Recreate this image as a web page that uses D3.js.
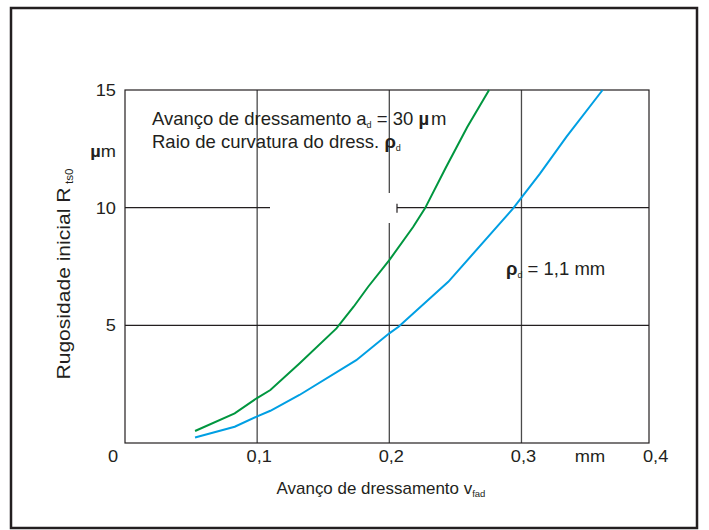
<!DOCTYPE html>
<html>
<head>
<meta charset="utf-8">
<script src="https://cdn.jsdelivr.net/npm/d3@7"></script>
<style>
  body { margin: 0; background: #fff; }
  text { font-family: "Liberation Sans", Arial, sans-serif; fill: #231f20; }
</style>
</head>
<body>
<div id="chart"></div>
<script>
// curve data (x in mm, y in µm)
const greenX = [0.053, 0.083, 0.0996, 0.110, 0.132, 0.160, 0.173, 0.184, 0.200, 0.218, 0.227, 0.243, 0.259, 0.2755];
const greenY = [0.51, 1.26, 1.90, 2.25, 3.38, 4.87, 5.79, 6.64, 7.77, 9.18, 9.97, 11.73, 13.43, 15.0];
const blueX = [0.053, 0.083, 0.0996, 0.110, 0.132, 0.175, 0.200, 0.207, 0.2446, 0.2837, 0.2937, 0.314, 0.334, 0.3614];
const blueY = [0.23, 0.69, 1.12, 1.37, 2.04, 3.52, 4.66, 4.94, 6.85, 9.33, 9.97, 11.45, 13.01, 15.0];

const xTicks = [0.1, 0.2, 0.3, 0.4];
const xTickLabels = ["0,1", "0,2", "0,3", "0,4"];
const yTicks = [5, 10, 15];
const yTickLabels = ["5", "10", "15"];

const width = 709, height = 530;
const plotLeft = 125, plotRight = 649, plotTop = 90, plotBottom = 443;

const svg = d3.select("#chart").append("svg")
    .attr("width", width)
    .attr("height", height);

// outer frame
svg.append("rect")
    .attr("x", 11).attr("y", 8)
    .attr("width", 686).attr("height", 520)
    .attr("fill", "none")
    .attr("stroke", "#231f20")
    .attr("stroke-width", 2.5);

const x = d3.scaleLinear().domain([0, 0.3965]).range([plotLeft, plotRight]);
const y = d3.scaleLinear().domain([0, 15]).range([plotBottom, plotTop]);

// grid lines
svg.append("g")
    .selectAll("line")
    .data(xTicks.filter(d => d < 0.39))
    .enter().append("line")
    .attr("x1", d => x(d)).attr("x2", d => x(d))
    .attr("y1", plotTop).attr("y2", plotBottom)
    .attr("stroke", "#4a4a4a")
    .attr("stroke-width", 1.3);

svg.append("g")
    .selectAll("line")
    .data(yTicks.filter(d => d < 15))
    .enter().append("line")
    .attr("x1", plotLeft).attr("x2", plotRight)
    .attr("y1", d => y(d)).attr("y2", d => y(d))
    .attr("stroke", "#231f20")
    .attr("stroke-width", 1.2);

// white patch over the grid (as in the scan)
svg.append("rect")
    .attr("x", 270).attr("y", 193)
    .attr("width", 127).attr("height", 30)
    .attr("fill", "#fff");
svg.append("line")
    .attr("x1", 397).attr("x2", 397)
    .attr("y1", y(10) - 4).attr("y2", y(10) + 5)
    .attr("stroke", "#231f20")
    .attr("stroke-width", 1.2);

// plot frame
svg.append("rect")
    .attr("x", plotLeft).attr("y", plotTop)
    .attr("width", plotRight - plotLeft).attr("height", plotBottom - plotTop)
    .attr("fill", "none")
    .attr("stroke", "#231f20")
    .attr("stroke-width", 1.2);

// curves
const line = d3.line()
    .x(d => x(d[0]))
    .y(d => y(d[1]));

svg.append("path")
    .datum(d3.zip(greenX, greenY))
    .attr("d", line)
    .attr("fill", "none")
    .attr("stroke", "#00963f")
    .attr("stroke-width", 2);

svg.append("path")
    .datum(d3.zip(blueX, blueY))
    .attr("d", line)
    .attr("fill", "none")
    .attr("stroke", "#009fe3")
    .attr("stroke-width", 2);

// helper for slightly wide tick text
function label(tx, ty, str, anchor) {
    return svg.append("text")
        .attr("transform", `translate(${tx},${ty}) scale(1.14,1)`)
        .attr("text-anchor", anchor)
        .attr("font-size", 16)
        .text(str);
}

// x tick labels
xTicks.forEach((d, i) => {
    label(x(d) + 2, 462, xTickLabels[i], "middle");
});
label(113, 462, "0", "middle");
label(590, 462, "mm", "middle");

// y tick labels
yTicks.forEach((d, i) => {
    label(116, y(d) + 6, yTickLabels[i], "end");
});
const um = svg.append("text")
    .attr("transform", "translate(116,157) scale(1.14,1)")
    .attr("text-anchor", "end")
    .attr("font-size", 16);
um.append("tspan").attr("font-weight", "bold").text("µ");
um.append("tspan").text("m");

// axis titles
const xt = svg.append("text")
    .attr("transform", "translate(381,494) scale(1.06,1)")
    .attr("text-anchor", "middle")
    .attr("font-size", 16);
xt.append("tspan").text("Avanço de dressamento v");
xt.append("tspan").attr("font-size", 9).attr("dy", 3).text("fad");

const yt = svg.append("text")
    .attr("transform", "translate(70,274) rotate(-90) scale(1.17,1)")
    .attr("text-anchor", "middle")
    .attr("font-size", 18);
yt.append("tspan").text("Rugosidade inicial R");
yt.append("tspan").attr("font-size", 10).attr("dx", 3).attr("dy", 3).text("ts0");

// annotations
const a1 = svg.append("text")
    .attr("x", 152).attr("y", 125)
    .attr("font-size", 18.5);
a1.append("tspan").text("Avanço de dressamento a");
a1.append("tspan").attr("font-size", 9).attr("dy", 3).text("d");
a1.append("tspan").attr("dy", -3).text(" = 30 ");
a1.append("tspan").attr("font-weight", "bold").text("µ");
a1.append("tspan").attr("dx", 2).text("m");

const a2 = svg.append("text")
    .attr("x", 152).attr("y", 148)
    .attr("font-size", 18.5);
a2.append("tspan").text("Raio de curvatura do dress. ");
a2.append("tspan").attr("font-weight", "bold").text("ρ");
a2.append("tspan").attr("font-size", 9).attr("dy", 3).text("d");

const a3 = svg.append("text")
    .attr("x", 506).attr("y", 275)
    .attr("font-size", 18.5);
a3.append("tspan").attr("font-weight", "bold").text("ρ");
a3.append("tspan").attr("font-size", 9).attr("dy", 3).text("d");
a3.append("tspan").attr("dy", -3).text(" = 1,1 mm");
</script>
</body>
</html>
